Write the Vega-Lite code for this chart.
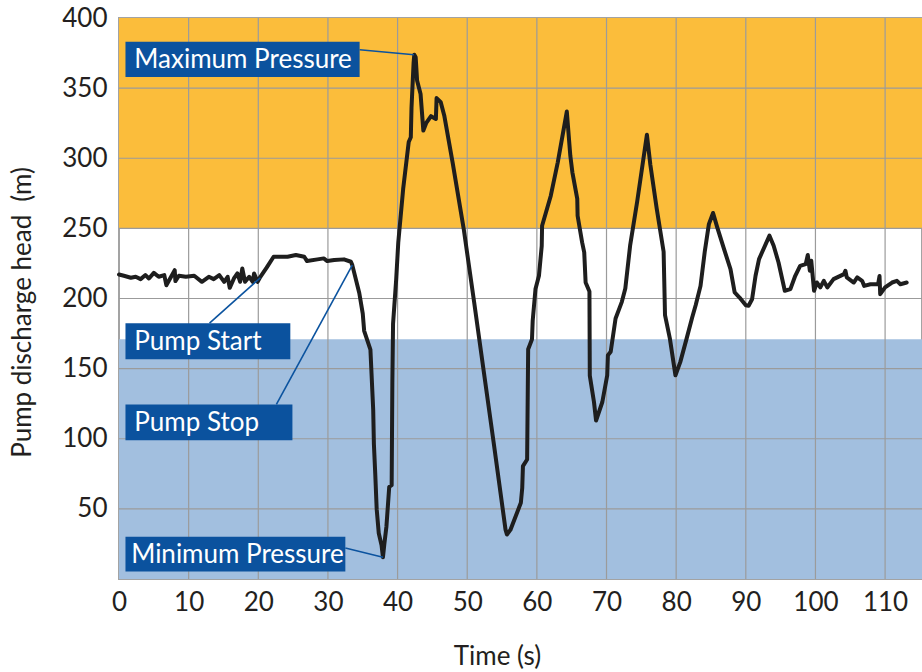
{
  "$schema": "https://vega.github.io/schema/vega-lite/v6.json",
  "autosize": {"type": "none"},
  "padding": {"left": 119, "top": 18, "right": 0, "bottom": 93},
  "width": 803,
  "height": 561,
  "background": "white",
  "config": {
    "view": {"stroke": "#a3a3a3", "strokeWidth": 2},
    "font": "Lato",
    "axis": {
      "labelFont": "Lato", "labelFontSize": 26, "labelColor": "#231F20",
      "titleFont": "Lato", "titleFontSize": 26, "titleFontWeight": "normal", "titleColor": "#231F20",
      "ticks": false, "domain": false, "grid": false, "labelFlush": false, "labelOverlap": false
    }
  },
  "datasets": {
    "series": [
      {"t": 0, "h": 217.1}, {"t": 0.7, "h": 216.2}, {"t": 1.7, "h": 214.8}, {"t": 2.4, "h": 215.5},
      {"t": 3.1, "h": 213.8}, {"t": 3.8, "h": 216.7}, {"t": 4.3, "h": 214.3}, {"t": 5.0, "h": 218.3},
      {"t": 5.7, "h": 215.5}, {"t": 6.5, "h": 216.7}, {"t": 6.8, "h": 209.5}, {"t": 7.4, "h": 214.8},
      {"t": 8.0, "h": 220.2}, {"t": 8.1, "h": 212.4}, {"t": 8.6, "h": 216.2}, {"t": 9.6, "h": 215.5},
      {"t": 10.8, "h": 216.2}, {"t": 11.9, "h": 211.9}, {"t": 12.9, "h": 215.5}, {"t": 13.6, "h": 213.8},
      {"t": 14.4, "h": 216.7}, {"t": 15.1, "h": 211.9}, {"t": 15.6, "h": 215.5}, {"t": 15.9, "h": 207.6},
      {"t": 16.5, "h": 214.3}, {"t": 17.0, "h": 217.9}, {"t": 17.4, "h": 211.9}, {"t": 17.7, "h": 221.4},
      {"t": 18.1, "h": 211.9}, {"t": 18.7, "h": 215.5}, {"t": 19.2, "h": 211.9}, {"t": 19.4, "h": 217.9},
      {"t": 19.9, "h": 211.9}, {"t": 20.3, "h": 215.5}, {"t": 21.2, "h": 222}, {"t": 22.2, "h": 229.8},
      {"t": 24.2, "h": 229.8}, {"t": 25.4, "h": 231}, {"t": 26.6, "h": 229.8}, {"t": 27.0, "h": 226.7},
      {"t": 28.5, "h": 227.9}, {"t": 29.4, "h": 228.6}, {"t": 29.9, "h": 226.7}, {"t": 30.9, "h": 227.4},
      {"t": 32.3, "h": 227.9}, {"t": 33.3, "h": 226.2}, {"t": 33.5, "h": 223.8}, {"t": 34.5, "h": 203.9},
      {"t": 35.0, "h": 189.2}, {"t": 35.2, "h": 177}, {"t": 36.1, "h": 163.5}, {"t": 36.5, "h": 120.7},
      {"t": 36.6, "h": 96.2}, {"t": 36.8, "h": 74.2}, {"t": 37.0, "h": 49.8}, {"t": 37.3, "h": 32.6},
      {"t": 37.7, "h": 24}, {"t": 37.9, "h": 15.5}, {"t": 38.1, "h": 25}, {"t": 38.4, "h": 37.5},
      {"t": 38.8, "h": 65.7}, {"t": 39.15, "h": 66.9}, {"t": 39.25, "h": 140}, {"t": 39.35, "h": 181.9},
      {"t": 39.8, "h": 213.7}, {"t": 40.1, "h": 240}, {"t": 40.8, "h": 278}, {"t": 41.6, "h": 311.6},
      {"t": 41.9, "h": 315}, {"t": 42.0, "h": 336}, {"t": 42.3, "h": 368}, {"t": 42.4, "h": 373.8},
      {"t": 42.6, "h": 372}, {"t": 42.8, "h": 355.5}, {"t": 43.3, "h": 345.8}, {"t": 43.7, "h": 319.8},
      {"t": 44.1, "h": 325}, {"t": 44.8, "h": 330}, {"t": 45.5, "h": 328}, {"t": 45.6, "h": 342.9},
      {"t": 46.2, "h": 340}, {"t": 46.7, "h": 330.5}, {"t": 47.9, "h": 297}, {"t": 49.5, "h": 249.5},
      {"t": 51.0, "h": 197.1}, {"t": 52.4, "h": 147}, {"t": 53.8, "h": 97.1}, {"t": 55.5, "h": 35.2},
      {"t": 55.7, "h": 31.7}, {"t": 56.2, "h": 35}, {"t": 57.7, "h": 54.3}, {"t": 57.9, "h": 65},
      {"t": 58.0, "h": 80.5}, {"t": 58.6, "h": 85.2}, {"t": 58.75, "h": 163.8}, {"t": 59.3, "h": 171},
      {"t": 59.4, "h": 184}, {"t": 59.8, "h": 206.7}, {"t": 60.3, "h": 216.2}, {"t": 60.7, "h": 237.6},
      {"t": 60.75, "h": 251.9}, {"t": 62.0, "h": 273.3}, {"t": 63.0, "h": 297.1}, {"t": 64.3, "h": 333.3},
      {"t": 64.8, "h": 301.9}, {"t": 65.1, "h": 290}, {"t": 65.8, "h": 271}, {"t": 65.85, "h": 259},
      {"t": 66.5, "h": 240}, {"t": 66.8, "h": 232.9}, {"t": 67.0, "h": 211.4}, {"t": 67.55, "h": 205},
      {"t": 67.6, "h": 145}, {"t": 68.2, "h": 126.2}, {"t": 68.5, "h": 113}, {"t": 69.4, "h": 126.2},
      {"t": 70.1, "h": 145.2}, {"t": 70.2, "h": 159.5}, {"t": 70.6, "h": 162}, {"t": 71.3, "h": 185.7},
      {"t": 72.2, "h": 197.6}, {"t": 72.7, "h": 207.1}, {"t": 73.4, "h": 238.1}, {"t": 74.4, "h": 269},
      {"t": 75.8, "h": 316.7}, {"t": 76.3, "h": 295.2}, {"t": 77.2, "h": 264.3}, {"t": 78.2, "h": 233.3},
      {"t": 78.4, "h": 188.1}, {"t": 79.1, "h": 171.4}, {"t": 79.9, "h": 145.2}, {"t": 80.6, "h": 154.8},
      {"t": 81.5, "h": 171.4}, {"t": 82.3, "h": 186.4}, {"t": 82.8, "h": 195.2}, {"t": 83.5, "h": 209},
      {"t": 84.1, "h": 233.1}, {"t": 84.7, "h": 253}, {"t": 85.3, "h": 261}, {"t": 85.9, "h": 250.7},
      {"t": 86.8, "h": 236.4}, {"t": 87.8, "h": 221}, {"t": 88.4, "h": 204.3}, {"t": 89.1, "h": 200.7},
      {"t": 90.0, "h": 195.2}, {"t": 90.4, "h": 194.8}, {"t": 90.9, "h": 199.5}, {"t": 91.4, "h": 216.2},
      {"t": 91.9, "h": 228.1}, {"t": 93.4, "h": 244.8}, {"t": 94.0, "h": 237.6}, {"t": 94.7, "h": 225.7},
      {"t": 95.6, "h": 205.5}, {"t": 96.4, "h": 206.7}, {"t": 97.1, "h": 216.2}, {"t": 97.8, "h": 223.3},
      {"t": 98.6, "h": 224.5}, {"t": 98.9, "h": 231}, {"t": 99.2, "h": 219.8}, {"t": 99.4, "h": 226.9},
      {"t": 99.8, "h": 205.5}, {"t": 100.2, "h": 211.4}, {"t": 100.7, "h": 207.9}, {"t": 101.2, "h": 212.6},
      {"t": 101.7, "h": 207.9}, {"t": 102.6, "h": 213.8}, {"t": 104.1, "h": 217.4}, {"t": 104.3, "h": 219.8},
      {"t": 104.5, "h": 215}, {"t": 105.5, "h": 211.4}, {"t": 106.0, "h": 215}, {"t": 106.7, "h": 212.6},
      {"t": 107.0, "h": 209}, {"t": 107.9, "h": 210.2}, {"t": 109.0, "h": 210.2}, {"t": 109.2, "h": 216},
      {"t": 109.3, "h": 203.1}, {"t": 110.0, "h": 207.9}, {"t": 111.0, "h": 211.4}, {"t": 111.7, "h": 212.6},
      {"t": 112.2, "h": 210.2}, {"t": 113.1, "h": 211.4}
    ],
    "bands": [
      {"zone": "high", "lo": 250, "hi": 400},
      {"zone": "low", "lo": 0, "hi": 171}
    ],
    "gridx": [{"v": 10}, {"v": 20}, {"v": 30}, {"v": 40}, {"v": 50}, {"v": 60}, {"v": 70}, {"v": 80}, {"v": 90}, {"v": 100}, {"v": 110}],
    "gridy": [{"v": 50}, {"v": 100}, {"v": 150}, {"v": 200}, {"v": 250}, {"v": 300}, {"v": 350}],
    "notes": [
      {"label": "Maximum Pressure", "bx": 0.93, "bx2": 34.55, "by": 358, "by2": 383, "tx": 2.2, "ty": 370.5, "lx": 34.55, "ly": 377.4, "lx2": 42.35, "ly2": 373.8},
      {"label": "Pump Start", "bx": 0.93, "bx2": 24.6, "by": 156.6, "by2": 182.4, "tx": 2.2, "ty": 169.5, "lx": 13.0, "ly": 182.4, "lx2": 20.3, "ly2": 214.8},
      {"label": "Pump Stop", "bx": 0.93, "bx2": 24.9, "by": 99, "by2": 124.5, "tx": 2.2, "ty": 111.8, "lx": 22.6, "ly": 124.5, "lx2": 33.5, "ly2": 223.8},
      {"label": "Minimum Pressure", "bx": 0.93, "bx2": 32.5, "by": 5.4, "by2": 30.2, "tx": 1.75, "ty": 17.8, "lx": 32.5, "ly": 22.1, "lx2": 37.9, "ly2": 15.5}
    ]
  },
  "layer": [
    {
      "data": {"name": "bands"},
      "mark": {"type": "rect"},
      "encoding": {
        "y": {"field": "lo", "type": "quantitative", "scale": {"domain": [0, 400], "nice": false, "zero": false},
          "axis": {"title": "Pump discharge head\u2002(m)", "values": [50, 100, 150, 200, 250, 300, 350, 400], "labelPadding": 12, "titleX": -84, "titleY": 294}},
        "y2": {"field": "hi"},
        "color": {"field": "zone", "type": "nominal", "scale": {"domain": ["high", "low"], "range": ["#FBBD3B", "#A2BFDF"]}, "legend": null}
      }
    },
    {
      "data": {"name": "gridx"},
      "mark": {"type": "rule", "color": "#9b9b9b", "strokeWidth": 1.2},
      "encoding": {
        "x": {"field": "v", "type": "quantitative", "scale": {"domain": [0, 115.3], "nice": false, "zero": false},
          "axis": {"title": "Time (s)", "values": [0, 10, 20, 30, 40, 50, 60, 70, 80, 90, 100, 110], "labelPadding": 10, "titleX": 378, "titleY": 64, "titleBaseline": "top"}}
      }
    },
    {
      "data": {"name": "gridy"},
      "mark": {"type": "rule", "color": "#9b9b9b", "strokeWidth": 1.2},
      "encoding": {
        "y": {"field": "v", "type": "quantitative", "scale": {"domain": [0, 400], "nice": false, "zero": false}, "title": "Pump discharge head\u2002(m)"}
      }
    },
    {
      "data": {"name": "series"},
      "mark": {"type": "line", "color": "#1e1e1e", "strokeWidth": 4, "strokeJoin": "round", "strokeCap": "round"},
      "encoding": {
        "x": {"field": "t", "type": "quantitative", "scale": {"domain": [0, 115.3], "nice": false, "zero": false}, "title": "Time (s)"},
        "y": {"field": "h", "type": "quantitative", "scale": {"domain": [0, 400], "nice": false, "zero": false}, "title": "Pump discharge head\u2002(m)"}
      }
    },
    {
      "data": {"name": "notes"},
      "mark": {"type": "rule", "color": "#0B539F", "strokeWidth": 1.6},
      "encoding": {
        "x": {"field": "lx", "type": "quantitative", "scale": {"domain": [0, 115.3], "nice": false, "zero": false}, "title": "Time (s)"},
        "y": {"field": "ly", "type": "quantitative", "scale": {"domain": [0, 400], "nice": false, "zero": false}, "title": "Pump discharge head\u2002(m)"},
        "x2": {"field": "lx2"},
        "y2": {"field": "ly2"}
      }
    },
    {
      "data": {"name": "notes"},
      "mark": {"type": "rect", "color": "#0B529E"},
      "encoding": {
        "x": {"field": "bx", "type": "quantitative", "scale": {"domain": [0, 115.3], "nice": false, "zero": false}, "title": "Time (s)"},
        "x2": {"field": "bx2"},
        "y": {"field": "by", "type": "quantitative", "scale": {"domain": [0, 400], "nice": false, "zero": false}, "title": "Pump discharge head\u2002(m)"},
        "y2": {"field": "by2"}
      }
    },
    {
      "data": {"name": "notes"},
      "mark": {"type": "text", "color": "white", "font": "Lato", "fontSize": 26, "align": "left", "baseline": "middle", "dy": 1},
      "encoding": {
        "x": {"field": "tx", "type": "quantitative", "scale": {"domain": [0, 115.3], "nice": false, "zero": false}, "title": "Time (s)"},
        "y": {"field": "ty", "type": "quantitative", "scale": {"domain": [0, 400], "nice": false, "zero": false}, "title": "Pump discharge head\u2002(m)"},
        "text": {"field": "label"}
      }
    }
  ]
}
